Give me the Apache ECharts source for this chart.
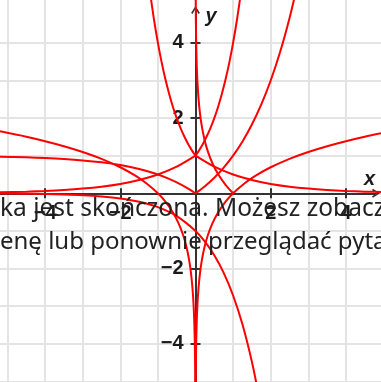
<!DOCTYPE html>
<html>
<head>
<meta charset="utf-8">
<script src="https://cdn.jsdelivr.net/npm/echarts@6.0.0/dist/echarts.min.js"></script>
<style>
  html, body { margin: 0; padding: 0; background: #fff; }
  #chart { width: 381px; height: 382px; }
</style>
</head>
<body>
<div id="chart"></div>
<script>
// punkty krzywych, pary [x, y]
var lnLeft = [[-5.3, 1.668], [-4.5, 1.504], [-4, 1.386], [-3.5, 1.253], [-3, 1.099], [-2.5, 0.916],
  [-2, 0.693], [-1.6, 0.47], [-1.3, 0.262], [-1, 0], [-0.8, -0.223], [-0.6, -0.511], [-0.45, -0.799],
  [-0.33, -1.109], [-0.24, -1.427], [-0.17, -1.772], [-0.12, -2.12], [-0.08, -2.526], [-0.05, -2.996],
  [-0.03, -3.507], [-0.018, -4.017], [-0.011, -4.51], [-0.0065, -5.036], [-0.004, -5.521]];
var lnRight = [[0.004, -5.521], [0.0065, -5.036], [0.011, -4.51], [0.018, -4.017], [0.03, -3.507],
  [0.05, -2.996], [0.08, -2.526], [0.12, -2.12], [0.17, -1.772], [0.24, -1.427], [0.33, -1.109],
  [0.45, -0.799], [0.6, -0.511], [0.8, -0.223], [1, 0], [1.3, 0.262], [1.6, 0.47], [2, 0.693],
  [2.5, 0.916], [3, 1.099], [3.5, 1.253], [4, 1.386], [4.5, 1.504], [5, 1.609]];
var absLn = [[0.005, 5.298], [0.008, 4.828], [0.013, 4.343], [0.02, 3.912], [0.032, 3.442],
  [0.05, 2.996], [0.08, 2.526], [0.12, 2.12], [0.17, 1.772], [0.24, 1.427], [0.33, 1.109],
  [0.45, 0.799], [0.6, 0.511], [0.8, 0.223], [1, 0]];
var pow2Left = [[-5.3, 0.0254], [-4.5, 0.0442], [-4, 0.0625], [-3.5, 0.0884], [-3, 0.125],
  [-2.5, 0.1768], [-2, 0.25], [-1.5, 0.3536], [-1, 0.5], [-0.5, 0.7071], [0, 1]];
var pow2Right = [[0, 1], [0.5, 0.7071], [1, 0.5], [1.5, 0.3536], [2, 0.25], [2.5, 0.1768],
  [3, 0.125], [3.5, 0.0884], [4, 0.0625], [4.5, 0.0442], [5, 0.0313]];
var pow4Left = [[-1.2, 5.278], [-1.1, 4.595], [-1, 4], [-0.9, 3.482], [-0.8, 3.031], [-0.7, 2.639],
  [-0.6, 2.297], [-0.5, 2], [-0.4, 1.741], [-0.3, 1.516], [-0.2, 1.32], [-0.1, 1.149], [0, 1]];
var pow4Right = [[0, 1], [0.1, 1.149], [0.2, 1.32], [0.3, 1.516], [0.4, 1.741], [0.5, 2],
  [0.6, 2.297], [0.7, 2.639], [0.8, 3.031], [0.9, 3.482], [1, 4], [1.1, 4.595], [1.2, 5.278]];
var diffLeft = [[-5.3, 0.9746], [-4.5, 0.9558], [-4, 0.9375], [-3.5, 0.9116], [-3, 0.875],
  [-2.5, 0.8232], [-2, 0.75], [-1.5, 0.6464], [-1, 0.5], [-0.75, 0.4054], [-0.5, 0.2929],
  [-0.25, 0.1591], [0, 0]];
var diffRight = [[0, 0], [0.25, 0.1892], [0.5, 0.4142], [0.75, 0.6818], [1, 1], [1.25, 1.3784],
  [1.5, 1.8284], [1.75, 2.3636], [2, 3], [2.25, 3.7568], [2.5, 4.6569], [2.7, 5.498]];
var negExp = [[-5.3, -0.005], [-4.5, -0.0111], [-4, -0.0183], [-3.5, -0.0302], [-3, -0.0498],
  [-2.5, -0.0821], [-2, -0.1353], [-1.5, -0.2231], [-1, -0.3679], [-0.5, -0.6065], [0, -1],
  [0.25, -1.284], [0.5, -1.6487], [0.75, -2.117], [1, -2.7183], [1.25, -3.4903], [1.5, -4.4817],
  [1.7, -5.4739]];

var overlayLines = ['ka jest skończona. Możesz zobaczyć', 'enę lub ponownie przeglądać pytania'];

var red = '#ff0000';
var axisColor = '#333333';
var gridColor = '#e4e4e4';
var arrow = 'path://M0,8 L5,0 L10,8 L8.4,9 L5,3.2 L1.6,9 Z';

var chart = echarts.init(document.getElementById('chart'));

function curve(data) {
  return {
    type: 'line',
    xAxisIndex: 0,
    yAxisIndex: 0,
    data: data,
    showSymbol: false,
    smooth: 0.3,
    clip: false,
    silent: true,
    lineStyle: { color: red, width: 2 }
  };
}

// etykiety tylko przy parzystych, bez zera
function tickLabel(v) {
  if (v === 0 || Math.abs(v % 2) > 1e-9) return '';
  return v < 0 ? '\u2212' + (-v) : String(v);
}

var tickLine = { color: axisColor, width: 2 };
var labelStyle = { fontSize: 20, fontWeight: 'bold', color: '#1a1a1a', fontFamily: 'Liberation Sans' };
var nameStyle = { fontSize: 20, fontWeight: 'bold', fontStyle: 'italic', color: '#1a1a1a', fontFamily: 'Liberation Sans' };
var hidden = { axisLine: { show: false }, axisTick: { show: false }, axisLabel: { show: false }, splitLine: { show: false } };
var noBounds = { outerBoundsMode: 'none', containLabel: false };

var option = {
  animation: false,
  backgroundColor: '#fff',
  grid: [
    // 0: dane, pionowe linie siatki i podziałki (-6..6 na obu osiach)
    Object.assign({ left: -30.1, right: -40.1, top: -32.3, bottom: -36.9 }, noBounds),
    // 1: osie ze strzałkami
    Object.assign({ left: -30.1, right: 5, top: 10, bottom: -36.9 }, noBounds),
    // 2: poziome linie siatki
    Object.assign({ left: -30.1, right: 0, top: 10, bottom: -36.9 }, noBounds),
    // 3: etykiety osi x (dolna krawędź na osi x)
    Object.assign({ left: -30.1, right: -40.1, top: 0, bottom: 188.7 }, noBounds),
    // 4: etykiety osi y (lewa krawędź na osi y)
    Object.assign({ left: 195.5, right: 0, top: -32.3, bottom: -36.9 }, noBounds)
  ],
  xAxis: [
    Object.assign({}, hidden, { gridIndex: 0, type: 'value', min: -6, max: 6, interval: 1,
      splitLine: { show: true, lineStyle: { color: gridColor, width: 2 } } }),
    Object.assign({}, hidden, { gridIndex: 0, type: 'value', min: -6, max: 6, interval: 2, position: 'bottom',
      axisLine: { show: false, onZero: true, onZeroAxisIndex: 0 },
      axisTick: { show: true, length: 5, lineStyle: tickLine } }),
    Object.assign({}, hidden, { gridIndex: 0, type: 'value', min: -6, max: 6, interval: 2, position: 'bottom',
      axisLine: { show: false, onZero: true, onZeroAxisIndex: 0 },
      axisTick: { show: true, inside: true, length: 5, lineStyle: tickLine } }),
    Object.assign({}, hidden, { gridIndex: 1, type: 'value', min: -6, max: 4.8, position: 'bottom',
      axisLine: { show: true, onZero: true, onZeroAxisIndex: 3, symbol: ['none', arrow], symbolSize: [11, 8],
        lineStyle: { color: axisColor, width: 2 } },
      name: 'x', nameLocation: 'end', nameGap: -1,
      nameTextStyle: Object.assign({ align: 'right', verticalAlign: 'bottom', padding: [0, 0, 4, 0] }, nameStyle) }),
    Object.assign({}, hidden, { gridIndex: 2, type: 'value', min: -6, max: 4.934, show: false }),
    Object.assign({}, hidden, { gridIndex: 3, type: 'value', min: -6, max: 6, interval: 2, position: 'bottom',
      axisLine: { show: false, onZero: false },
      axisLabel: Object.assign({ show: true, margin: 10, formatter: tickLabel }, labelStyle) }),
    Object.assign({}, hidden, { gridIndex: 4, type: 'value', min: 0, max: 1, show: false })
  ],
  yAxis: [
    Object.assign({}, hidden, { gridIndex: 0, type: 'value', min: -6, max: 6, interval: 2, position: 'left',
      axisLine: { show: false, onZero: true, onZeroAxisIndex: 1 },
      axisTick: { show: true, length: 5, lineStyle: tickLine } }),
    Object.assign({}, hidden, { gridIndex: 0, type: 'value', min: -6, max: 6, interval: 2, position: 'left',
      axisLine: { show: false, onZero: true, onZeroAxisIndex: 2 },
      axisTick: { show: true, inside: true, length: 5, lineStyle: tickLine } }),
    Object.assign({}, hidden, { gridIndex: 0, type: 'value', min: -6, max: 6, interval: 2, show: false }),
    Object.assign({}, hidden, { gridIndex: 1, type: 'value', min: -6, max: 4.875, position: 'left',
      axisLine: { show: true, onZero: true, onZeroAxisIndex: 3, symbol: ['none', arrow], symbolSize: [11, 8],
        lineStyle: { color: axisColor, width: 2 } },
      name: 'y', nameLocation: 'end', nameGap: 4,
      nameTextStyle: Object.assign({ align: 'left', verticalAlign: 'top', padding: [0, 0, 0, 10] }, nameStyle) }),
    Object.assign({}, hidden, { gridIndex: 2, type: 'value', min: -6, max: 4.875, interval: 1,
      splitLine: { show: true, showMaxLine: false, lineStyle: { color: gridColor, width: 2 } } }),
    Object.assign({}, hidden, { gridIndex: 3, type: 'value', min: 0, max: 1, show: false }),
    Object.assign({}, hidden, { gridIndex: 4, type: 'value', min: -6, max: 6, interval: 2, position: 'left',
      axisLine: { show: false, onZero: false },
      axisLabel: Object.assign({ show: true, margin: 12, formatter: tickLabel }, labelStyle) })
  ],
  graphic: [
    { type: 'text', left: 0, top: 197, z: 100, silent: true,
      style: { text: overlayLines[0], fontSize: 24.5, fontFamily: 'Noto Sans', fill: '#222' } },
    { type: 'text', left: 0, top: 230, z: 100, silent: true,
      style: { text: overlayLines[1], fontSize: 24, fontFamily: 'Noto Sans', fill: '#222' } }
  ],
  series: [
    curve(lnLeft), curve(lnRight), curve(absLn),
    curve(pow2Left), curve(pow2Right),
    curve(pow4Left), curve(pow4Right),
    curve(diffLeft), curve(diffRight),
    curve(negExp)
  ]
};

chart.setOption(option);
</script>
</body>
</html>
